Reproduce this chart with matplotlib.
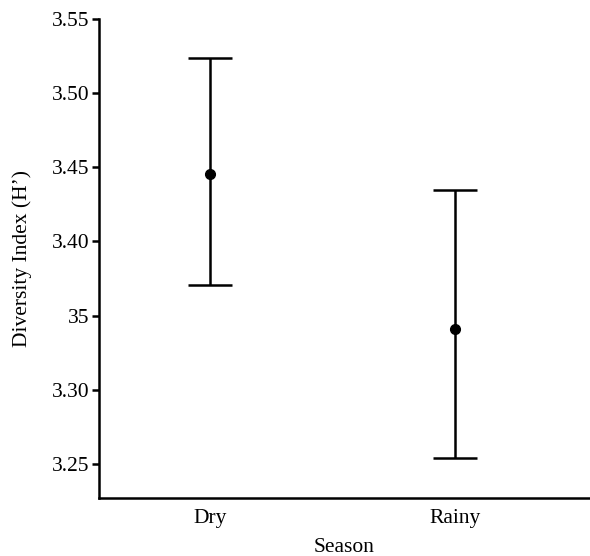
import matplotlib
matplotlib.use("Agg")
import matplotlib.pyplot as plt
import numpy as np

seasons = ["Dry", "Rainy"]
means = [3.4456, 3.3411]
upper = [3.5237, 3.4348]
lower = [3.3708, 3.2542]
ytick_vals = [3.25, 3.30, 3.35, 3.40, 3.45, 3.50, 3.55]
ytick_labels = ["3.25", "3.30", "35", "3.40", "3.45", "3.50", "3.55"]

plt.rcParams['font.family'] = ['Liberation Serif', 'DejaVu Serif']

fig = plt.figure(figsize=(5.90, 5.56), dpi=100)
ax = fig.add_axes([99/590, 58/556, (590-99)/590, (498-19)/556])

x = np.arange(len(seasons))
m = np.array(means)
yerr = [m - np.array(lower), np.array(upper) - m]
ax.errorbar(x, m, yerr=yerr, fmt='o', color='black', ecolor='black',
            elinewidth=1.8, capsize=15.5, capthick=1.8, markersize=7)

ax.set_xlim(-0.453, 1.551)
ax.set_ylim(3.227, 3.55)
ax.set_xticks(x)
ax.set_xticklabels(seasons, fontsize=15.5)
ax.set_yticks(ytick_vals)
ax.set_yticklabels(ytick_labels, fontsize=15.5)
ax.tick_params(axis='x', length=0, pad=8)
ax.tick_params(axis='y', length=5, width=1.8, pad=2)
ax.spines['top'].set_visible(False)
ax.spines['right'].set_visible(False)
ax.spines['left'].set_linewidth(1.8)
ax.spines['bottom'].set_linewidth(1.8)
ax.set_xlabel("Season", fontsize=15.5, labelpad=7)
ax.set_ylabel("Diversity Index (H\u2019)", fontsize=15.5, labelpad=14)

fig.savefig("out.png", dpi=100)
